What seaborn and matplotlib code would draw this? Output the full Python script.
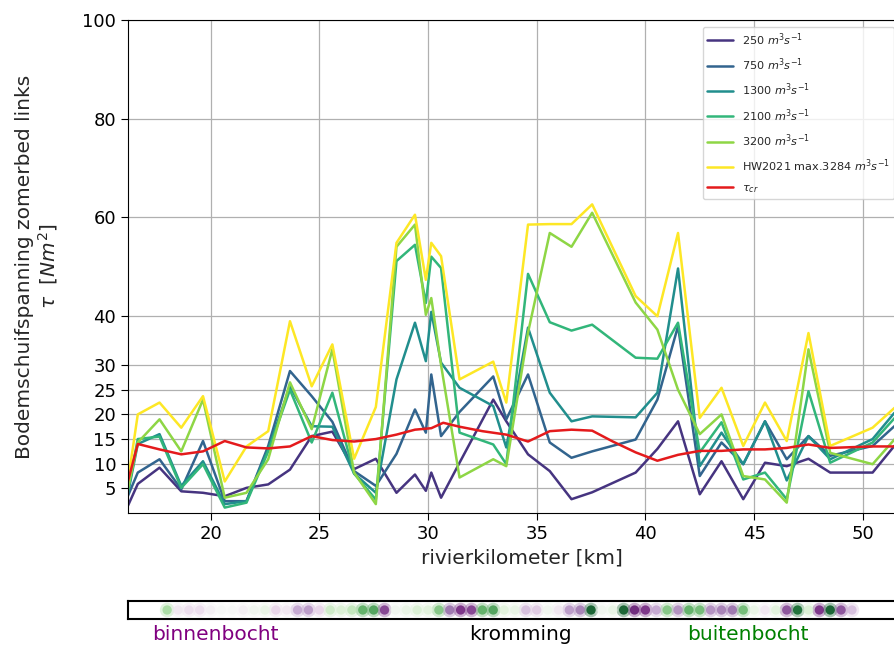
import numpy as np
import pandas as pd
import matplotlib
matplotlib.use("Agg")
import matplotlib.pyplot as plt
import seaborn as sns

# river kilometres of the model output points
km = [16.2, 16.65, 17.65, 18.65, 19.65, 20.65, 21.65, 22.65, 23.65, 24.65,
      25.6, 26.6, 27.6, 28.55, 29.4, 29.9, 30.15, 30.6, 31.45, 33.0,
      33.6, 34.6, 35.6, 36.6, 37.55, 39.55, 40.55, 41.5, 42.5, 43.5,
      44.5, 45.5, 46.5, 47.5, 48.5, 50.45, 51.45, 52.4]

# bed shear stress, left summer bed, per discharge [N/m2]
q250 = [1.5, 5.9, 9.2, 4.4, 4.1, 3.4, 5.1, 5.8, 8.8, 15.6,
        16.5, 8.9, 11.0, 4.1, 7.8, 4.5, 8.2, 3.1, 10.2, 23.0,
        18.6, 11.9, 8.5, 2.8, 4.2, 8.2, 13.0, 18.6, 3.8, 10.5,
        2.8, 10.2, 9.5, 11.0, 8.2, 8.2, 13.6, 15.0]
q750 = [3.5, 8.2, 10.9, 4.8, 14.6, 2.4, 2.4, 13.6, 28.8, 23.7,
        18.5, 8.5, 5.5, 12.0, 21.0, 16.3, 28.1, 15.6, 20.5, 27.7,
        19.0, 28.1, 14.3, 11.2, 12.5, 14.9, 23.0, 37.9, 7.5, 14.3,
        9.9, 18.6, 10.9, 15.6, 11.6, 13.6, 17.6, 19.5]
q1300 = [4.0, 14.0, 16.0, 5.5, 10.5, 1.8, 2.4, 13.0, 25.7, 17.6,
         17.5, 8.0, 4.1, 27.1, 38.6, 30.8, 40.8, 30.5, 25.4, 21.7,
         13.3, 37.6, 24.4, 18.6, 19.6, 19.4, 24.4, 49.6, 9.5, 16.3,
         9.9, 18.6, 6.6, 15.6, 10.9, 15.0, 20.3, 22.0]
q2100 = [4.5, 15.0, 15.5, 5.1, 9.9, 1.1, 2.1, 12.5, 25.0, 14.3,
         24.4, 8.0, 2.7, 51.1, 54.4, 42.6, 52.0, 49.7, 16.3, 13.9,
         9.9, 48.5, 38.7, 37.0, 38.2, 31.5, 31.3, 38.6, 12.3, 18.4,
         6.8, 8.2, 2.8, 24.7, 10.2, 14.3, 19.2, 21.0]
q3200 = [5.0, 14.3, 19.0, 12.5, 23.0, 3.1, 4.1, 10.9, 26.5, 17.0,
         33.2, 8.2, 1.8, 54.0, 58.5, 40.2, 43.6, 30.0, 7.2, 10.9,
         9.5, 36.6, 56.8, 54.0, 60.9, 42.7, 37.2, 25.0, 16.0, 20.0,
         7.5, 6.8, 2.1, 33.2, 12.2, 9.9, 14.9, 18.0]
qhw2021 = [6.5, 20.0, 22.4, 17.3, 23.7, 6.4, 13.5, 16.6, 38.9, 25.7,
           34.2, 11.0, 21.5, 54.8, 60.5, 47.3, 54.8, 52.1, 27.1, 30.7,
           22.4, 58.5, 58.6, 58.6, 62.6, 44.0, 39.9, 56.8, 19.3, 25.4,
           13.6, 22.4, 14.6, 36.5, 13.6, 17.3, 21.3, 24.0]

series_labels = [r"250 $m^3s^{-1}$", r"750 $m^3s^{-1}$", r"1300 $m^3s^{-1}$",
                 r"2100 $m^3s^{-1}$", r"3200 $m^3s^{-1}$",
                 r"HW2021 max.3284 $m^3s^{-1}$"]
series_values = [q250, q750, q1300, q2100, q3200, qhw2021]

# critical shear stress along the river
tcr_km = [16.2, 16.65, 17.65, 18.65, 19.65, 20.65, 21.65, 22.65, 23.65, 24.65,
          25.6, 26.6, 27.6, 28.55, 29.4, 30.15, 30.7, 31.45, 32.5, 33.6,
          34.6, 35.6, 36.6, 37.55, 38.5, 39.55, 40.55, 41.5, 42.5, 43.5,
          44.5, 45.5, 46.5, 47.5, 48.5, 50.45, 51.45, 52.4]
tcr = [6.5, 14.0, 12.9, 11.9, 12.5, 14.6, 13.3, 13.1, 13.5, 15.6,
       14.8, 14.5, 15.0, 15.9, 16.9, 17.2, 18.3, 17.5, 16.6, 15.9,
       14.5, 16.6, 16.9, 16.7, 14.5, 12.3, 10.6, 11.8, 12.6, 12.6,
       12.9, 12.9, 13.2, 13.9, 13.2, 13.5, 13.5, 13.5]

# bend curvature indicator (negative = inner bend, positive = outer bend)
bend_km = [18.0, 18.5, 19.0, 19.5, 20.0, 20.5, 21.0, 21.5, 22.0, 22.5,
           23.0, 23.5, 24.0, 24.5, 25.0, 25.5, 26.0, 26.5, 27.0, 27.5,
           28.0, 28.5, 29.0, 29.5, 30.0, 30.5, 31.0, 31.5, 32.0, 32.5,
           33.0, 33.5, 34.0, 34.5, 35.0, 35.5, 36.0, 36.5, 37.0, 37.5,
           38.0, 38.5, 39.0, 39.5, 40.0, 40.5, 41.0, 41.5, 42.0, 42.5,
           43.0, 43.5, 44.0, 44.5, 45.0, 45.5, 46.0, 46.5, 47.0, 47.5,
           48.0, 48.5, 49.0, 49.5]
bend = [0.4, -0.1, -0.15, -0.15, -0.05, 0.0, 0.0, -0.05, 0.05, 0.1,
        -0.2, -0.1, -0.4, -0.45, -0.2, 0.25, 0.2, 0.3, 0.6, 0.65,
        -0.75, 0.05, 0.1, 0.2, 0.15, 0.5, -0.6, -0.8, -0.75, 0.6,
        0.65, 0.15, 0.1, -0.3, -0.25, 0.05, -0.1, -0.45, -0.55, 0.9,
        0.05, 0.1, 0.9, -0.85, -0.8, -0.4, 0.5, -0.5, 0.6, 0.55,
        -0.5, -0.55, -0.6, 0.55, 0.1, -0.1, 0.15, -0.7, 0.85, 0.2,
        -0.8, 0.9, -0.7, -0.3]

yticks = [5, 10, 15, 20, 25, 30, 40, 60, 80, 100]
xticks = [20, 25, 30, 35, 40, 45, 50]

sns.set_style("ticks")

W, H = 894, 645
fig = plt.figure(figsize=(W / 100, H / 100), dpi=100)
x0, x1 = 128, 915
ax = fig.add_axes([x0 / W, 1 - 513 / H, (x1 - x0) / W, (513 - 20) / H])

df = pd.DataFrame({
    "km": km * len(series_values),
    "tau": [v for vals in series_values for v in vals],
    "afvoer": [lab for lab in series_labels for _ in km],
})
palette = dict(zip(series_labels,
                   [plt.cm.viridis(p) for p in [0.15, 0.32, 0.49, 0.66, 0.83, 1.0]]))
sns.lineplot(data=df, x="km", y="tau", hue="afvoer", hue_order=series_labels,
             palette=palette, estimator=None, sort=False, lw=1.8, ax=ax)
sns.lineplot(x=tcr_km, y=tcr, color="#e41a1c", lw=1.8, label=r"$\tau_{cr}$",
             estimator=None, sort=False, ax=ax)

ax.set_xlim(16.2, 52.4)
ax.set_ylim(0, 100)
ax.set_yticks(yticks)
ax.set_xticks(xticks)
ax.tick_params(labelsize=13, length=5, colors="black")
ax.grid(True, color="#b0b0b0", lw=0.9)
for s in ax.spines.values():
    s.set_color("black")
ax.set_xlabel("rivierkilometer [km]", fontsize=14.5)
ax.set_ylabel("Bodemschuifspanning zomerbed links\n" + r"$\tau$  $[Nm^2]$",
              fontsize=14.5, labelpad=16, linespacing=1.1)

handles, labels = ax.get_legend_handles_labels()
ax.legend(handles, labels, loc="upper left",
          bbox_to_anchor=(703 / W, 1 - 27 / H), bbox_transform=fig.transFigure,
          borderaxespad=0, borderpad=0.35, fontsize=8.1, labelspacing=0.78,
          handlelength=2.3, handletextpad=0.8, framealpha=0.8)

# strip with bend indicator
axb = fig.add_axes([x0 / W, 1 - 619 / H, (x1 - x0) / W, 18 / H])
bdf = pd.DataFrame({"km": bend_km, "y": [0.0] * len(bend_km), "k": bend})
sns.scatterplot(data=bdf, x="km", y="y", hue="k", palette="PRGn", hue_norm=(-1, 1),
                s=110, alpha=0.35, linewidth=0, legend=False, ax=axb)
sns.scatterplot(data=bdf, x="km", y="y", hue="k", palette="PRGn", hue_norm=(-1, 1),
                s=45, alpha=0.9, linewidth=0, legend=False, ax=axb)
axb.set_xlim(16.2, 52.4)
axb.set_ylim(-1, 1)
axb.set_xticks([])
axb.set_yticks([])
axb.set_xlabel("")
axb.set_ylabel("")
for s in axb.spines.values():
    s.set_color("black")
    s.set_linewidth(1.5)

fig.text(215 / W, 1 - 634 / H, "binnenbocht", color="purple", fontsize=14.5,
         ha="center", va="center")
fig.text(520 / W, 1 - 634 / H, "kromming", color="black", fontsize=14.5,
         ha="center", va="center")
fig.text(748 / W, 1 - 634 / H, "buitenbocht", color="green", fontsize=14.5,
         ha="center", va="center")

fig.savefig("out.png", dpi=100)
